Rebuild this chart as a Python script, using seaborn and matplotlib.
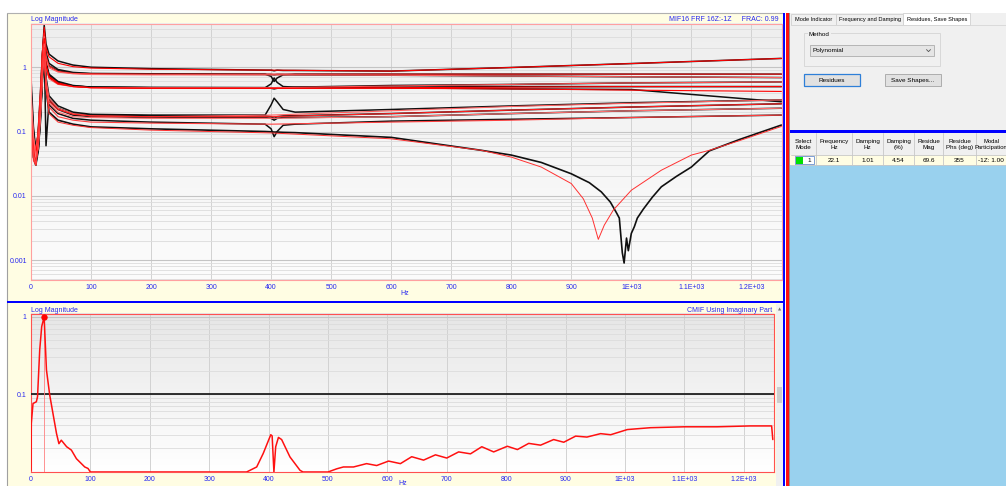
import numpy as np
import matplotlib
matplotlib.use("Agg")
import matplotlib.pyplot as plt
from matplotlib.patches import Rectangle
from matplotlib.ticker import FixedLocator, LogLocator, NullFormatter
import seaborn as sns

# ---------------------------------------------------------------- data
# FRF magnitudes (measured) sampled on a shared frequency grid
hz_meas = [0, 4, 8, 12, 16, 19, 22, 25, 30, 45, 70, 100, 200, 390, 400, 405,
           410, 420, 440, 600, 800, 1000, 1250]
frf_01_meas = [0.3, 0.1, 0.05, 0.09, 0.35, 1.5, 4.5, 2.3, 1.6, 1.25, 1.08, 1.0, 0.95, 0.9, 0.9, 0.88, 0.9, 0.89, 0.89, 0.87, 0.99, 1.14, 1.37]
frf_02_meas = [0.2, 0.07, 0.04, 0.1, 0.45, 1.6, 3.6, 1.7, 1.15, 0.92, 0.83, 0.8, 0.79, 0.78, 0.72, 0.6, 0.68, 0.76, 0.78, 0.78, 0.78, 0.78, 0.78]
frf_03_meas = [0.4, 0.09, 0.05, 0.08, 0.3, 1.3, 3.2, 1.5, 1.05, 0.88, 0.81, 0.79, 0.78, 0.77, 0.77, 0.76, 0.77, 0.77, 0.76, 0.75, 0.73, 0.71, 0.69]
frf_04_meas = [0.2, 0.06, 0.035, 0.07, 0.3, 1.2, 3.0, 1.2, 0.78, 0.6, 0.52, 0.49, 0.48, 0.48, 0.55, 0.68, 0.58, 0.5, 0.49, 0.49, 0.5, 0.5, 0.5]
frf_05_meas = [0.25, 0.08, 0.04, 0.06, 0.25, 1.0, 2.8, 1.1, 0.7, 0.57, 0.51, 0.49, 0.485, 0.48, 0.47, 0.46, 0.47, 0.48, 0.49, 0.52, 0.54, 0.57, 0.59]
frf_06_meas = [0.3, 0.09, 0.045, 0.07, 0.28, 1.1, 2.9, 1.15, 0.74, 0.58, 0.51, 0.49, 0.48, 0.48, 0.48, 0.47, 0.48, 0.48, 0.48, 0.48, 0.46, 0.45, 0.29]
frf_07_meas = [0.15, 0.05, 0.03, 0.06, 0.2, 0.8, 2.5, 0.7, 0.36, 0.25, 0.2, 0.185, 0.18, 0.18, 0.26, 0.33, 0.29, 0.22, 0.2, 0.22, 0.25, 0.28, 0.31]
frf_08_meas = [0.35, 0.07, 0.035, 0.05, 0.18, 0.75, 2.2, 0.6, 0.32, 0.23, 0.19, 0.18, 0.175, 0.175, 0.17, 0.16, 0.17, 0.175, 0.176, 0.19, 0.215, 0.24, 0.27]
frf_09_meas = [0.5, 0.1, 0.04, 0.05, 0.15, 0.7, 2.0, 0.06, 0.3, 0.22, 0.18, 0.17, 0.165, 0.165, 0.16, 0.15, 0.16, 0.165, 0.165, 0.17, 0.19, 0.21, 0.23]
frf_10_meas = [0.7, 0.12, 0.05, 0.06, 0.2, 0.6, 1.8, 0.5, 0.26, 0.19, 0.16, 0.15, 0.14, 0.13, 0.11, 0.083, 0.1, 0.125, 0.13, 0.145, 0.155, 0.165, 0.18]

# FRF magnitudes (single-mode polynomial fit)
hz_fit = [0, 4, 8, 12, 16, 19, 22, 25, 30, 45, 70, 100, 200, 400, 600, 800, 1000, 1250]
frf_01_fit = [0.25, 0.08, 0.05, 0.1, 0.4, 1.7, 4.2, 2.0, 1.45, 1.15, 1.02, 0.97, 0.93, 0.9, 0.87, 0.99, 1.14, 1.37]
frf_02_fit = [0.18, 0.06, 0.04, 0.11, 0.5, 1.8, 3.4, 1.5, 1.05, 0.86, 0.8, 0.79, 0.78, 0.78, 0.78, 0.78, 0.78, 0.78]
frf_03_fit = [0.35, 0.08, 0.05, 0.09, 0.35, 1.4, 3.0, 1.35, 0.98, 0.84, 0.79, 0.77, 0.76, 0.76, 0.75, 0.73, 0.71, 0.69]
frf_04_fit = [0.18, 0.05, 0.035, 0.08, 0.35, 1.3, 2.8, 1.1, 0.72, 0.57, 0.5, 0.48, 0.47, 0.47, 0.48, 0.49, 0.5, 0.5]
frf_05_fit = [0.22, 0.07, 0.04, 0.07, 0.28, 1.1, 2.6, 1.0, 0.66, 0.54, 0.5, 0.48, 0.48, 0.48, 0.51, 0.54, 0.57, 0.59]
frf_06_fit = [0.28, 0.08, 0.045, 0.075, 0.3, 1.2, 2.7, 1.05, 0.7, 0.55, 0.5, 0.48, 0.47, 0.47, 0.47, 0.46, 0.44, 0.42]
frf_07_fit = [0.13, 0.045, 0.03, 0.065, 0.22, 0.9, 2.3, 0.65, 0.33, 0.23, 0.19, 0.175, 0.17, 0.18, 0.21, 0.245, 0.275, 0.31]
frf_08_fit = [0.3, 0.06, 0.035, 0.055, 0.2, 0.8, 2.0, 0.55, 0.3, 0.22, 0.185, 0.175, 0.17, 0.17, 0.19, 0.215, 0.24, 0.27]
frf_09_fit = [0.45, 0.09, 0.04, 0.055, 0.17, 0.75, 1.9, 0.5, 0.28, 0.2, 0.17, 0.165, 0.16, 0.16, 0.17, 0.19, 0.21, 0.23]
frf_10_fit = [0.12, 0.04, 0.03, 0.07, 0.25, 0.7, 1.7, 0.45, 0.24, 0.17, 0.15, 0.14, 0.135, 0.13, 0.14, 0.15, 0.165, 0.18]

# FRF with anti-resonance near 1 kHz (driving point 16Z:-1Z)
hz_dp_meas = [0, 4, 8, 12, 16, 19, 22, 25, 30, 45, 70, 100, 200, 390, 400, 405, 410,
              420, 440, 600, 750, 800, 850, 900, 930, 950, 965, 975, 980, 985, 988,
              992, 995, 1000, 1005, 1010, 1020, 1035, 1050, 1075, 1100, 1130, 1180, 1250]
dp_meas = [0.15, 0.04, 0.03, 0.05, 0.2, 0.9, 2.2, 0.45, 0.2, 0.15, 0.13, 0.118, 0.11,
           0.1, 0.099, 0.098, 0.098, 0.097, 0.096, 0.081, 0.051, 0.043, 0.033, 0.022,
           0.016, 0.0115, 0.008, 0.0055, 0.0045, 0.0013, 0.0009, 0.0022, 0.0014,
           0.0026, 0.0033, 0.0045, 0.0062, 0.0095, 0.0138, 0.02, 0.028, 0.05, 0.075, 0.126]
hz_dp_fit = [0, 4, 8, 12, 16, 19, 22, 25, 30, 45, 70, 100, 200, 400, 600, 750, 800,
             850, 900, 920, 935, 945, 955, 970, 1000, 1050, 1100, 1130, 1180, 1250]
dp_fit = [0.12, 0.035, 0.03, 0.06, 0.25, 1.0, 2.0, 0.5, 0.19, 0.14, 0.125, 0.115, 0.105,
          0.095, 0.077, 0.051, 0.04, 0.028, 0.0155, 0.009, 0.0045, 0.0021, 0.0035,
          0.006, 0.0122, 0.025, 0.043, 0.051, 0.072, 0.12]

# Complex mode indicator function (imaginary part)
cmif_hz = [0, 0.5, 3.4, 9, 11, 14.7, 18, 22.1, 26, 31.5, 38, 43, 47, 51, 60, 68, 76.5,
           90.5, 96, 100, 363, 380, 391, 403.7, 406, 409, 412, 416.6, 422, 436, 453,
           458, 500, 515, 526, 543, 565, 582, 602, 622, 641, 661, 681, 700, 720, 740,
           759, 779, 802, 819, 838, 858, 880, 897, 917, 936, 959, 976, 1004, 1043,
           1100, 1155, 1211, 1247, 1249]
cmif_mag = [0.0104, 0.042, 0.076, 0.08, 0.093, 0.376, 0.75, 1.0, 0.207, 0.098, 0.051,
            0.031, 0.023, 0.0255, 0.021, 0.019, 0.0147, 0.0115, 0.011, 0.0099, 0.0099,
            0.0115, 0.0172, 0.030, 0.029, 0.0099, 0.021, 0.0277, 0.026, 0.0155, 0.0104,
            0.0099, 0.0099, 0.0109, 0.0115, 0.0115, 0.0127, 0.012, 0.0137, 0.0127,
            0.0156, 0.0141, 0.0165, 0.015, 0.018, 0.017, 0.021, 0.018, 0.0213, 0.0193,
            0.0232, 0.022, 0.026, 0.024, 0.0288, 0.028, 0.031, 0.030, 0.035, 0.037,
            0.038, 0.038, 0.039, 0.039, 0.026]
cmif_threshold = 0.1
mode_hz = 22.1
mode_peak = 1.0

x_ticks = [0, 100, 200, 300, 400, 500, 600, 700, 800, 900, 1000, 1100, 1200]
x_ticklabels = ["0", "100", "200", "300", "400", "500", "600", "700", "800", "900",
                "1E+03", "1.1E+03", "1.2E+03"]
top_yticks = [1, 0.1, 0.01, 0.001]
top_yticklabels = ["1", "0.1", "0.01", "0.001"]
bot_yticks = [1, 0.1]
bot_yticklabels = ["1", "0.1"]

tab_names = ["Mode Indicator", "Frequency and Damping", "Residues, Save Shapes"]
table_header = ["Select\nMode", "Frequency\nHz", "Damping\nHz", "Damping\n(%)",
                "Residue\nMag", "Residue\nPhs (deg)", "Modal\nParticipation"]
table_row = ["1", "22.1", "1.01", "4.54", "69.6", "355", "-1Z: 1.00"]

# ---------------------------------------------------------------- style
sns.set_theme(style="white")
plt.rcParams['font.family'] = ['Liberation Sans', 'DejaVu Sans']

W, H = 1006, 486
fig = plt.figure(figsize=(W / 100, H / 100), dpi=100)
fig.patch.set_facecolor("white")

BLUE_TXT = "#2828F0"
CREAM = "#FFFDE3"


def frac_rect(x0, y0, x1, y1):
    return [x0 / W, 1 - y1 / H, (x1 - x0) / W, (y1 - y0) / H]


ui = fig.add_axes([0, 0, 1, 1], zorder=0)
ui.set_xlim(0, W)
ui.set_ylim(H, 0)
ui.axis("off")


def box(x0, y0, x1, y1, fc, ec="none", lw=0.0, z=1):
    ui.add_patch(Rectangle((x0, y0), x1 - x0, y1 - y0, facecolor=fc,
                           edgecolor=ec, linewidth=lw, zorder=z))


def vgrad(x0, y0, x1, y1, c_top, c_bot):
    top = np.array(matplotlib.colors.to_rgb(c_top))
    bot = np.array(matplotlib.colors.to_rgb(c_bot))
    t = np.linspace(0, 1, 200)[:, None]
    img = (top * (1 - t) + bot * t)[:, None, :]
    ui.imshow(img, extent=(x0, x1, y1, y0), aspect="auto", zorder=2,
              interpolation="bilinear")


# left window frame
box(7, 13, 783, 486, CREAM)
ui.plot([7, 7], [13, 486], color="#A0A0A0", lw=0.8, zorder=3)
ui.plot([7, 783], [12.8, 12.8], color="#B0B0B0", lw=0.8, zorder=3)

# plot backgrounds
vgrad(31, 24, 782, 280, "#EEEEEE", "#FCFCFC")
vgrad(31, 314, 774, 472, "#E6E6E6", "#FFFFFF")

# separators
box(7, 300.5, 783, 303, "#0000FF", z=4)
box(783, 13, 785.3, 486, "#0000FF", z=4)
box(785.3, 13, 786.3, 486, "white", z=4)
box(786.3, 13, 789.5, 486, "#FF1010", z=4)
box(789.5, 13, 790.5, 486, "#909090", z=4)

# scrollbar of the lower chart
box(776, 304, 783, 486, "#F0F0F0", z=3)
box(776.6, 387, 782.4, 403, "#CDCDCD", z=4)
ui.text(779.5, 309.5, "\u25b2", fontsize=3, color="#707070", ha="center",
        va="center", zorder=5, family=["DejaVu Sans"])

# chart captions
ui.text(31, 19.5, "Log Magnitude", fontsize=5, color=BLUE_TXT, va="center", zorder=5)
ui.text(779, 19.5, "MIF16 FRF 16Z:-1Z     FRAC: 0.99", fontsize=5, color=BLUE_TXT,
        ha="right", va="center", zorder=5)
ui.text(405, 293, "Hz", fontsize=5, color=BLUE_TXT, ha="center", va="center", zorder=5)
ui.text(31, 310.5, "Log Magnitude", fontsize=5, color=BLUE_TXT, va="center", zorder=5)
ui.text(772, 310.5, "CMIF Using Imaginary Part", fontsize=5, color=BLUE_TXT,
        ha="right", va="center", zorder=5)
ui.text(403, 483.5, "Hz", fontsize=5, color=BLUE_TXT, ha="center", va="center", zorder=5)

# ---------------------------------------------------------------- right panel
box(790.5, 13, 1006, 130, "#F0F0F0", z=3)
tab_spans = [(791, 836), (836, 903.5), (903.5, 970)]
for i, (name, (a, b)) in enumerate(zip(tab_names, tab_spans)):
    sel = i == 2
    box(a, 13.5 if sel else 14.5, b, 25, "white" if sel else "#F0F0F0",
        ec="#D0D0D0", lw=0.6, z=4)
    ui.text((a + b) / 2, 19.7, name, fontsize=4.1, color="black", ha="center",
            va="center", zorder=5)
ui.plot([791, 1006], [25, 25], color="#D6D6D6", lw=0.6, zorder=4)

# method group box
ui.add_patch(Rectangle((804.5, 33.5), 136, 32.5, facecolor="none",
                       edgecolor="#D8D8D8", lw=0.7, zorder=4))
ui.text(809, 34, "Method", fontsize=4.5, color="black", va="center", zorder=5,
        bbox=dict(facecolor="#F0F0F0", edgecolor="none", pad=0.5))
box(810, 45.5, 934, 56, "#E5E5E5", ec="#ADADAD", lw=0.6, z=4)
ui.text(812.5, 50.8, "Polynomial", fontsize=4.6, color="black", va="center", zorder=5)
ui.plot([926.5, 928.5, 930.5], [49.6, 51.6, 49.6], color="#505050", lw=0.6, zorder=5)

# buttons
box(804.5, 74, 860, 86.5, "#E1E1E1", ec="#2E7FD8", lw=0.9, z=4)
ui.text(832.2, 80.3, "Residues", fontsize=4.6, color="black", ha="center",
        va="center", zorder=5)
box(885, 74, 941, 86.5, "#E1E1E1", ec="#ADADAD", lw=0.7, z=4)
ui.text(913, 80.3, "Save Shapes...", fontsize=4.6, color="black", ha="center",
        va="center", zorder=5)

# results table
box(790.5, 129.5, 1006, 132.7, "#0000FF", z=4)
box(790.5, 132.7, 1006, 155, "#F0F0F0", z=4)
box(790.5, 155, 1006, 165, CREAM, z=4)
box(790.5, 165, 1006, 486, "#99D1EE", z=4)
col_edges = [791, 816, 852, 883, 914, 943, 976, 1008]
for xe in col_edges[1:-1]:
    ui.plot([xe, xe], [133, 165], color="#C8C8C8", lw=0.6, zorder=5)
ui.plot([791, 1006], [155, 155], color="#C8C8C8", lw=0.6, zorder=5)
ui.plot([791, 1006], [165, 165], color="#C8C8C8", lw=0.6, zorder=5)
for i, (hdr, val) in enumerate(zip(table_header, table_row)):
    cx = (col_edges[i] + col_edges[i + 1]) / 2
    fs = 4.5
    if i == len(table_header) - 1:
        cx = 991
        fs = 4.2
    ui.text(cx, 144.5, hdr, fontsize=fs, color="black", ha="center", va="center",
            linespacing=1.15, zorder=6)
    if i == 0:
        box(795.5, 156.3, 814, 164, "white", ec="#6A8FD0", lw=0.6, z=6)
        box(796, 156.8, 803.5, 163.6, "#00E000", z=7)
        ui.text(809, 160.3, val, fontsize=4.6, color="black", ha="center",
                va="center", zorder=7)
    else:
        ui.text(cx, 160.3, val, fontsize=4.6, color="black", ha="center",
                va="center", zorder=6)


# ---------------------------------------------------------------- chart axes
def style_axes(ax, yticks, yticklabels, spine_color):
    ax.set_facecolor("none")
    ax.set_yscale("log")
    ax.set_xlim(0, 1251)
    ax.xaxis.set_major_locator(FixedLocator(x_ticks))
    ax.set_xticklabels(x_ticklabels)
    ax.yaxis.set_major_locator(FixedLocator(yticks))
    ax.set_yticklabels(yticklabels)
    ax.yaxis.set_minor_locator(LogLocator(base=10, subs=np.arange(2, 10)))
    ax.yaxis.set_minor_formatter(NullFormatter())
    ax.tick_params(axis="both", which="major", labelsize=5, labelcolor=BLUE_TXT,
                   color="#FF2020", length=1.8, width=0.6, pad=1.2)
    ax.tick_params(axis="y", which="minor", length=0)
    ax.grid(True, which="major", axis="x", color="#D2D2D2", lw=0.7)
    ax.grid(True, which="major", axis="y", color="#C4C4C4", lw=0.8)
    ax.grid(True, which="minor", axis="y", color="#DCDCDC", lw=0.6)
    ax.set_axisbelow(True)
    for s in ax.spines.values():
        s.set_color(spine_color)
        s.set_linewidth(0.8)
    ax.set_xlabel("")
    ax.set_ylabel("")


ax1 = fig.add_axes(frac_rect(31, 24, 782, 280), zorder=5)
meas_sets = [frf_01_meas, frf_02_meas, frf_03_meas, frf_04_meas, frf_05_meas,
             frf_06_meas, frf_07_meas, frf_08_meas, frf_09_meas, frf_10_meas]
fit_sets = [frf_01_fit, frf_02_fit, frf_03_fit, frf_04_fit, frf_05_fit,
            frf_06_fit, frf_07_fit, frf_08_fit, frf_09_fit, frf_10_fit]
for m in meas_sets:
    sns.lineplot(x=hz_meas, y=m, ax=ax1, color="#101010", lw=1.1,
                 estimator=None, sort=False, legend=False)
sns.lineplot(x=hz_dp_meas, y=dp_meas, ax=ax1, color="#101010", lw=1.2,
             estimator=None, sort=False, legend=False)
fit_colors = ["#FF0000", "#FF2020", "#FF6060", "#FF0000", "#FF5050",
              "#FF0000", "#FF6060", "#FF2020", "#FF7070", "#FF4040"]
for f, c in zip(fit_sets, fit_colors):
    sns.lineplot(x=hz_fit, y=f, ax=ax1, color=c, lw=0.8,
                 estimator=None, sort=False, legend=False)
sns.lineplot(x=hz_dp_fit, y=dp_fit, ax=ax1, color="#FF3030", lw=0.7,
             estimator=None, sort=False, legend=False)
style_axes(ax1, top_yticks, top_yticklabels, "#FFA0A0")
ax1.set_ylim(0.00049, 4.7)

ax2 = fig.add_axes(frac_rect(31, 314, 774, 472), zorder=5)
ax2.axhline(cmif_threshold, color="#202020", lw=1.3, zorder=3)
ax2.plot([mode_hz, mode_hz], [0.0099, mode_peak], color="#FF8080", lw=0.6, zorder=3)
sns.lineplot(x=cmif_hz, y=cmif_mag, ax=ax2, color="#FF1010", lw=1.1,
             estimator=None, sort=False, legend=False, zorder=4)
ax2.plot([mode_hz], [mode_peak], "o", color="#FF0000", ms=3.6, zorder=5)
style_axes(ax2, bot_yticks, bot_yticklabels, "#FF5050")
ax2.set_ylim(0.0099, 1.09)

fig.savefig("out.png", dpi=100, facecolor=fig.get_facecolor())
